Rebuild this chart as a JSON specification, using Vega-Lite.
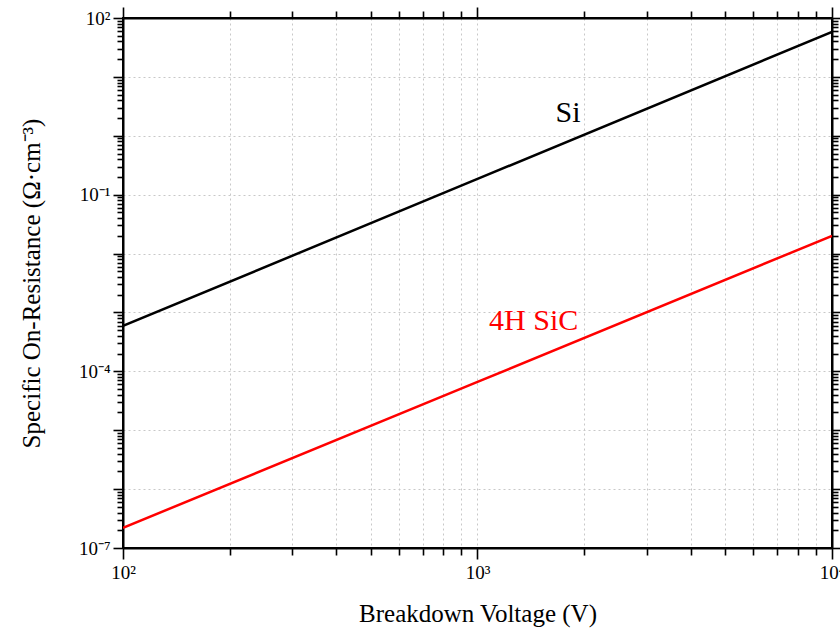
{
  "$schema": "https://vega.github.io/schema/vega-lite/v6.json",
  "width": 709,
  "height": 530,
  "autosize": "none",
  "padding": {"left": 123, "top": 18, "right": 8, "bottom": 82},
  "background": "white",
  "config": {
    "view": {"stroke": "black", "strokeWidth": 2},
    "font": "Liberation Serif",
    "axis": {
      "labelFont": "Liberation Serif",
      "titleFont": "Liberation Serif",
      "labelColor": "black",
      "titleColor": "black",
      "titleFontWeight": "normal",
      "domainColor": "black",
      "domainWidth": 2,
      "tickColor": "black",
      "tickWidth": 1.6,
      "gridColor": "#c8c8c8",
      "gridDash": [2, 3],
      "gridWidth": 1
    }
  },
  "datasets": {
    "curves": [
      {"material": "Si", "voltage": 100, "resistance": 0.00059},
      {"material": "Si", "voltage": 1000, "resistance": 0.185},
      {"material": "Si", "voltage": 10000, "resistance": 58},
      {"material": "4H SiC", "voltage": 100, "resistance": 2.2e-7},
      {"material": "4H SiC", "voltage": 1000, "resistance": 6.6e-5},
      {"material": "4H SiC", "voltage": 10000, "resistance": 0.02}
    ],
    "captions": [
      {"material": "Si", "voltage": 1800, "resistance": 2.4},
      {"material": "4H SiC", "voltage": 1440, "resistance": 0.00072}
    ]
  },
  "resolve": {"axis": {"x": "independent", "y": "independent"}},
  "layer": [
    {
      "data": {"name": "curves"},
      "mark": {"type": "line", "strokeWidth": 2.5, "clip": true},
      "encoding": {
        "x": {
          "field": "voltage",
          "type": "quantitative",
          "scale": {"type": "log", "domain": [100, 10000], "nice": false},
          "axis": {
            "orient": "bottom",
            "title": "Breakdown Voltage (V)",
            "titleFontSize": 25,
            "titlePadding": 19,
            "labelFontSize": 19,
            "labelPadding": 4,
            "labelFlush": false,
            "labelOverlap": false,
            "values": [100, 200, 300, 400, 500, 600, 700, 800, 900, 1000, 2000, 3000, 4000, 5000, 6000, 7000, 8000, 9000, 10000],
            "labelExpr": "datum.value == 100 ? '10²' : datum.value == 1000 ? '10³' : datum.value == 10000 ? '10⁴' : ''",
            "tickSize": {"condition": {"test": "abs(log(datum.value)/LN10 - round(log(datum.value)/LN10)) < 0.000001", "value": 11}, "value": 7},
            "grid": true
          }
        },
        "y": {
          "field": "resistance",
          "type": "quantitative",
          "scale": {"type": "log", "domain": [1e-7, 100], "nice": false},
          "axis": {
            "orient": "left",
            "title": "Specific On-Resistance (Ω·cm⁻³)",
            "titleFontSize": 25,
            "titlePadding": 34,
            "labelFontSize": 19,
            "labelPadding": 3,
            "labelFlush": false,
            "labelOverlap": false,
            "values": [1e-7, 2e-7, 3e-7, 4e-7, 5e-7, 6e-7, 7e-7, 8e-7, 9e-7,
                       1e-6, 2e-6, 3e-6, 4e-6, 5e-6, 6e-6, 7e-6, 8e-6, 9e-6,
                       1e-5, 2e-5, 3e-5, 4e-5, 5e-5, 6e-5, 7e-5, 8e-5, 9e-5,
                       1e-4, 2e-4, 3e-4, 4e-4, 5e-4, 6e-4, 7e-4, 8e-4, 9e-4,
                       0.001, 0.002, 0.003, 0.004, 0.005, 0.006, 0.007, 0.008, 0.009,
                       0.01, 0.02, 0.03, 0.04, 0.05, 0.06, 0.07, 0.08, 0.09,
                       0.1, 0.2, 0.3, 0.4, 0.5, 0.6, 0.7, 0.8, 0.9,
                       1, 2, 3, 4, 5, 6, 7, 8, 9,
                       10, 20, 30, 40, 50, 60, 70, 80, 90, 100],
            "labelExpr": "abs(log(datum.value)/LN10 - 2) < 0.001 ? '10²' : abs(log(datum.value)/LN10 + 1) < 0.001 ? '10⁻¹' : abs(log(datum.value)/LN10 + 4) < 0.001 ? '10⁻⁴' : abs(log(datum.value)/LN10 + 7) < 0.001 ? '10⁻⁷' : ''",
            "tickSize": {"condition": {"test": "abs(log(datum.value)/LN10 - round(log(datum.value)/LN10)) < 0.000001", "value": 10}, "value": 6},
            "grid": true,
            "gridOpacity": {"condition": {"test": "abs(log(datum.value)/LN10 - round(log(datum.value)/LN10)) < 0.000001", "value": 1}, "value": 0}
          }
        },
        "color": {
          "field": "material",
          "type": "nominal",
          "scale": {"domain": ["Si", "4H SiC"], "range": ["#000000", "#ff0000"]},
          "legend": null
        }
      }
    },
    {
      "data": {"name": "captions"},
      "mark": {"type": "text", "font": "Liberation Serif", "fontSize": 30, "align": "center", "baseline": "middle"},
      "encoding": {
        "x": {
          "field": "voltage",
          "type": "quantitative",
          "axis": {
            "orient": "top",
            "title": null,
            "labels": false,
            "grid": false,
            "values": [100, 200, 300, 400, 500, 600, 700, 800, 900, 1000, 2000, 3000, 4000, 5000, 6000, 7000, 8000, 9000, 10000],
            "tickSize": {"condition": {"test": "abs(log(datum.value)/LN10 - round(log(datum.value)/LN10)) < 0.000001", "value": 11}, "value": 7}
          }
        },
        "y": {
          "field": "resistance",
          "type": "quantitative",
          "axis": {
            "orient": "right",
            "title": null,
            "labels": false,
            "grid": false,
            "values": [1e-7, 2e-7, 3e-7, 4e-7, 5e-7, 6e-7, 7e-7, 8e-7, 9e-7,
                       1e-6, 2e-6, 3e-6, 4e-6, 5e-6, 6e-6, 7e-6, 8e-6, 9e-6,
                       1e-5, 2e-5, 3e-5, 4e-5, 5e-5, 6e-5, 7e-5, 8e-5, 9e-5,
                       1e-4, 2e-4, 3e-4, 4e-4, 5e-4, 6e-4, 7e-4, 8e-4, 9e-4,
                       0.001, 0.002, 0.003, 0.004, 0.005, 0.006, 0.007, 0.008, 0.009,
                       0.01, 0.02, 0.03, 0.04, 0.05, 0.06, 0.07, 0.08, 0.09,
                       0.1, 0.2, 0.3, 0.4, 0.5, 0.6, 0.7, 0.8, 0.9,
                       1, 2, 3, 4, 5, 6, 7, 8, 9,
                       10, 20, 30, 40, 50, 60, 70, 80, 90, 100],
            "tickSize": {"condition": {"test": "abs(log(datum.value)/LN10 - round(log(datum.value)/LN10)) < 0.000001", "value": 10}, "value": 6}
          }
        },
        "text": {"field": "material", "type": "nominal"},
        "color": {"field": "material", "type": "nominal", "legend": null}
      }
    }
  ]
}
